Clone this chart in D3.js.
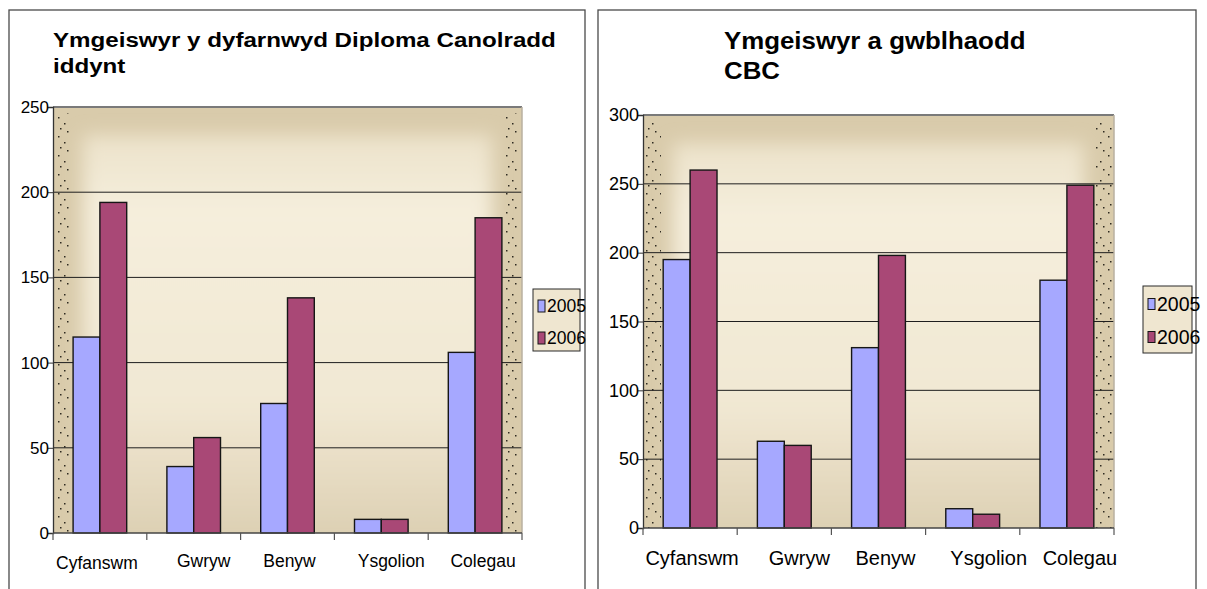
<!DOCTYPE html>
<html>
<head>
<meta charset="utf-8">
<script src="https://cdn.jsdelivr.net/npm/d3@7"></script>
<style>
  body { margin: 0; background: #fff; }
  svg { display: block; font-family: "Liberation Sans", Arial, sans-serif; }
</style>
</head>
<body>
<svg id="chart" width="1207" height="589"></svg>
<script>
// data
const categories = ["Cyfanswm", "Gwryw", "Benyw", "Ysgolion", "Colegau"];
const seriesNames = ["2005", "2006"];
const diplomaTitle = ["Ymgeiswyr y dyfarnwyd Diploma Canolradd", "iddynt"];
const diploma2005 = [115, 39, 76, 8, 106];
const diploma2006 = [194, 56, 138, 8, 185];
const diplomaTicks = [0, 50, 100, 150, 200, 250];
const cbcTitle = ["Ymgeiswyr a gwblhaodd", "CBC"];
const cbc2005 = [195, 63, 131, 14, 180];
const cbc2006 = [260, 60, 198, 10, 249];
const cbcTicks = [0, 50, 100, 150, 200, 250, 300];

const barColors = ["#a6a8ff", "#a94876"];

const svg = d3.select("#chart");
const defs = svg.append("defs");

// parchment-ish background pieces
const grad = defs.append("linearGradient").attr("id", "inner").attr("x1", 0).attr("y1", 0).attr("x2", 0).attr("y2", 1);
grad.append("stop").attr("offset", "0%").attr("stop-color", "#ece2ca");
grad.append("stop").attr("offset", "18%").attr("stop-color", "#f5eedc");
grad.append("stop").attr("offset", "65%").attr("stop-color", "#f1e8d3");
grad.append("stop").attr("offset", "100%").attr("stop-color", "#dacdaf");

defs.append("filter").attr("id", "soft").attr("x", "-20%").attr("y", "-20%").attr("width", "140%").attr("height", "140%")
  .append("feGaussianBlur").attr("stdDeviation", 9);

const dots = defs.append("pattern").attr("id", "dots").attr("patternUnits", "userSpaceOnUse")
  .attr("width", 14).attr("height", 19);
[[2, 3], [8, 9], [4, 14], [11, 17]].forEach(([x, y]) => {
  dots.append("rect").attr("x", x).attr("y", y).attr("width", 1.5).attr("height", 1.5).attr("fill", "#2e2a20");
});
const dotLine = defs.append("pattern").attr("id", "dotline").attr("patternUnits", "userSpaceOnUse")
  .attr("width", 4).attr("height", 4);
dotLine.append("rect").attr("x", 1).attr("y", 1).attr("width", 1).attr("height", 1).attr("fill", "#3a3425");

function drawChart(cfg) {
  const g = svg.append("g");

  // panel frame
  g.append("rect")
    .attr("x", cfg.panel[0]).attr("y", cfg.panel[1])
    .attr("width", cfg.panel[2]).attr("height", cfg.panel[3])
    .attr("fill", "#fff").attr("stroke", "#4a4a4a").attr("stroke-width", 1.3);

  const x = d3.scaleBand().domain(categories).range([cfg.x0, cfg.x1]).padding(0);
  const xs = d3.scaleBand().domain(seriesNames).range([0, x.bandwidth()]).paddingInner(0).paddingOuter(0.75);
  const y = d3.scaleLinear().domain([0, cfg.max]).range([cfg.y0, cfg.y1]);

  const pw = cfg.x1 - cfg.x0, ph = cfg.y0 - cfg.y1;
  const clipId = "clip" + cfg.id;
  defs.append("clipPath").attr("id", clipId).append("rect")
    .attr("x", cfg.x0).attr("y", cfg.y1).attr("width", pw).attr("height", ph);

  const bg = g.append("g").attr("clip-path", `url(#${clipId})`);
  bg.append("rect").attr("x", cfg.x0).attr("y", cfg.y1).attr("width", pw).attr("height", ph).attr("fill", "#d9cbab");
  bg.append("rect")
    .attr("x", cfg.x0 + 30).attr("y", cfg.y1 + 28)
    .attr("width", pw - 60).attr("height", ph - 10)
    .attr("fill", "url(#inner)").attr("filter", "url(#soft)");
  bg.append("rect").attr("x", cfg.x0 + 2).attr("y", cfg.y1 + 6).attr("width", 16).attr("height", ph - 6).attr("fill", "url(#dots)");
  bg.append("rect").attr("x", cfg.x1 - 18).attr("y", cfg.y1 + 6).attr("width", 16).attr("height", ph - 6).attr("fill", "url(#dots)");
  bg.append("rect").attr("x", cfg.x0 + 4).attr("y", cfg.y1 + 4).attr("width", pw - 8).attr("height", 2).attr("fill", "url(#dotline)");

  // gridlines
  g.append("g").selectAll("line").data(cfg.ticks.filter(d => d > 0)).join("line")
    .attr("x1", cfg.x0).attr("x2", cfg.x1)
    .attr("y1", d => y(d)).attr("y2", d => y(d))
    .attr("stroke", d => d === cfg.max ? "#7a7a7a" : "#1e1e1e")
    .attr("stroke-width", d => d === cfg.max ? 2 : 1);
  g.append("line").attr("x1", cfg.x1).attr("x2", cfg.x1).attr("y1", cfg.y1).attr("y2", cfg.y0)
    .attr("stroke", "#b9b0a0").attr("stroke-width", 1.5);

  // bars
  const rows = categories.map((c, i) => ({ cat: c, vals: [cfg.s2005[i], cfg.s2006[i]] }));
  const grp = g.append("g").selectAll("g").data(rows).join("g")
    .attr("transform", d => `translate(${x(d.cat)},0)`);
  grp.selectAll("rect").data(d => d.vals.map((v, j) => ({ key: seriesNames[j], v, j }))).join("rect")
    .attr("x", d => xs(d.key))
    .attr("y", d => y(d.v))
    .attr("width", xs.bandwidth())
    .attr("height", d => cfg.y0 - y(d.v))
    .attr("fill", d => barColors[d.j])
    .attr("stroke", "#161616").attr("stroke-width", 1.4);

  // y axis
  const yAxis = g.append("g").attr("transform", `translate(${cfg.x0},0)`)
    .call(d3.axisLeft(y).tickValues(cfg.ticks).tickSize(5).tickPadding(-1).tickFormat(d3.format("d")));
  yAxis.select(".domain").attr("stroke", "#333").attr("stroke-width", 1.3);
  yAxis.selectAll(".tick line").attr("stroke", "#333");
  yAxis.selectAll(".tick text").attr("font-size", cfg.tickSize).attr("fill", "#000")
    .attr("font-family", "Liberation Sans, Arial, sans-serif");

  // x axis
  const xAxisG = g.append("g");
  xAxisG.append("line").attr("x1", cfg.x0).attr("x2", cfg.x1).attr("y1", cfg.y0).attr("y2", cfg.y0)
    .attr("stroke", "#444").attr("stroke-width", 1.5);
  const bounds = categories.map(c => x(c)).concat([cfg.x1]);
  xAxisG.selectAll(".tk").data(bounds).join("line")
    .attr("x1", d => d).attr("x2", d => d).attr("y1", cfg.y0).attr("y2", cfg.y0 + 7)
    .attr("stroke", "#555").attr("stroke-width", 1.2);
  xAxisG.selectAll("text").data(categories).join("text")
    .attr("x", (d, i) => x(d) + x.bandwidth() / 2 + cfg.labelDx[i])
    .attr("y", (d, i) => cfg.labelY + (i === 0 ? cfg.firstDy : 0))
    .attr("text-anchor", "middle")
    .attr("font-size", cfg.catSize)
    .text(d => d);

  // title
  cfg.title.forEach((t, i) => {
    g.append("text")
      .attr("transform", `translate(${cfg.titleX},${cfg.titleY + i * cfg.titleGap}) scale(${cfg.titleStretch},1)`)
      .attr("font-size", cfg.titleSize).attr("font-weight", "bold")
      .text(t);
  });

  // legend
  const lg = g.append("g").attr("transform", `translate(${cfg.legend[0]},${cfg.legend[1]})`);
  lg.append("rect").attr("width", cfg.legend[2]).attr("height", cfg.legend[3])
    .attr("fill", "#efe6d0").attr("stroke", "#2a2a2a").attr("stroke-width", 1);
  seriesNames.forEach((s, j) => {
    const yy = cfg.legendRow0 + j * cfg.legendGap;
    lg.append("rect").attr("x", 5).attr("y", yy - cfg.swH / 2).attr("width", 7).attr("height", cfg.swH)
      .attr("fill", barColors[j]).attr("stroke", "#161616").attr("stroke-width", 1);
    lg.append("text").attr("x", 14).attr("y", yy).attr("dy", "0.36em")
      .attr("font-size", cfg.legendSize).text(s);
  });
}

drawChart({
  id: "a", panel: [9, 10, 576, 600],
  x0: 53, x1: 522, y0: 533, y1: 107, max: 250, ticks: diplomaTicks,
  s2005: diploma2005, s2006: diploma2006,
  tickSize: 17, catSize: 17.5, labelY: 567, firstDy: 2, labelDx: [-3, 10, 2, 10, 8],
  title: diplomaTitle, titleX: 53, titleY: 47, titleGap: 26, titleSize: 21, titleStretch: 1.15,
  legend: [533, 289, 47, 62], legendRow0: 17, legendGap: 32, swH: 12, legendSize: 17.5
});

drawChart({
  id: "b", panel: [598, 10, 598, 600],
  x0: 643, x1: 1114, y0: 528, y1: 115, max: 300, ticks: cbcTicks,
  s2005: cbc2005, s2006: cbc2006,
  tickSize: 18, catSize: 20, labelY: 565, firstDy: 0, labelDx: [2, 15, 7, 16, 13],
  title: cbcTitle, titleX: 724, titleY: 49, titleGap: 30, titleSize: 23.5, titleStretch: 1.1,
  legend: [1143, 286, 49, 67], legendRow0: 18, legendGap: 33, swH: 11, legendSize: 19.5
});
</script>
</body>
</html>
